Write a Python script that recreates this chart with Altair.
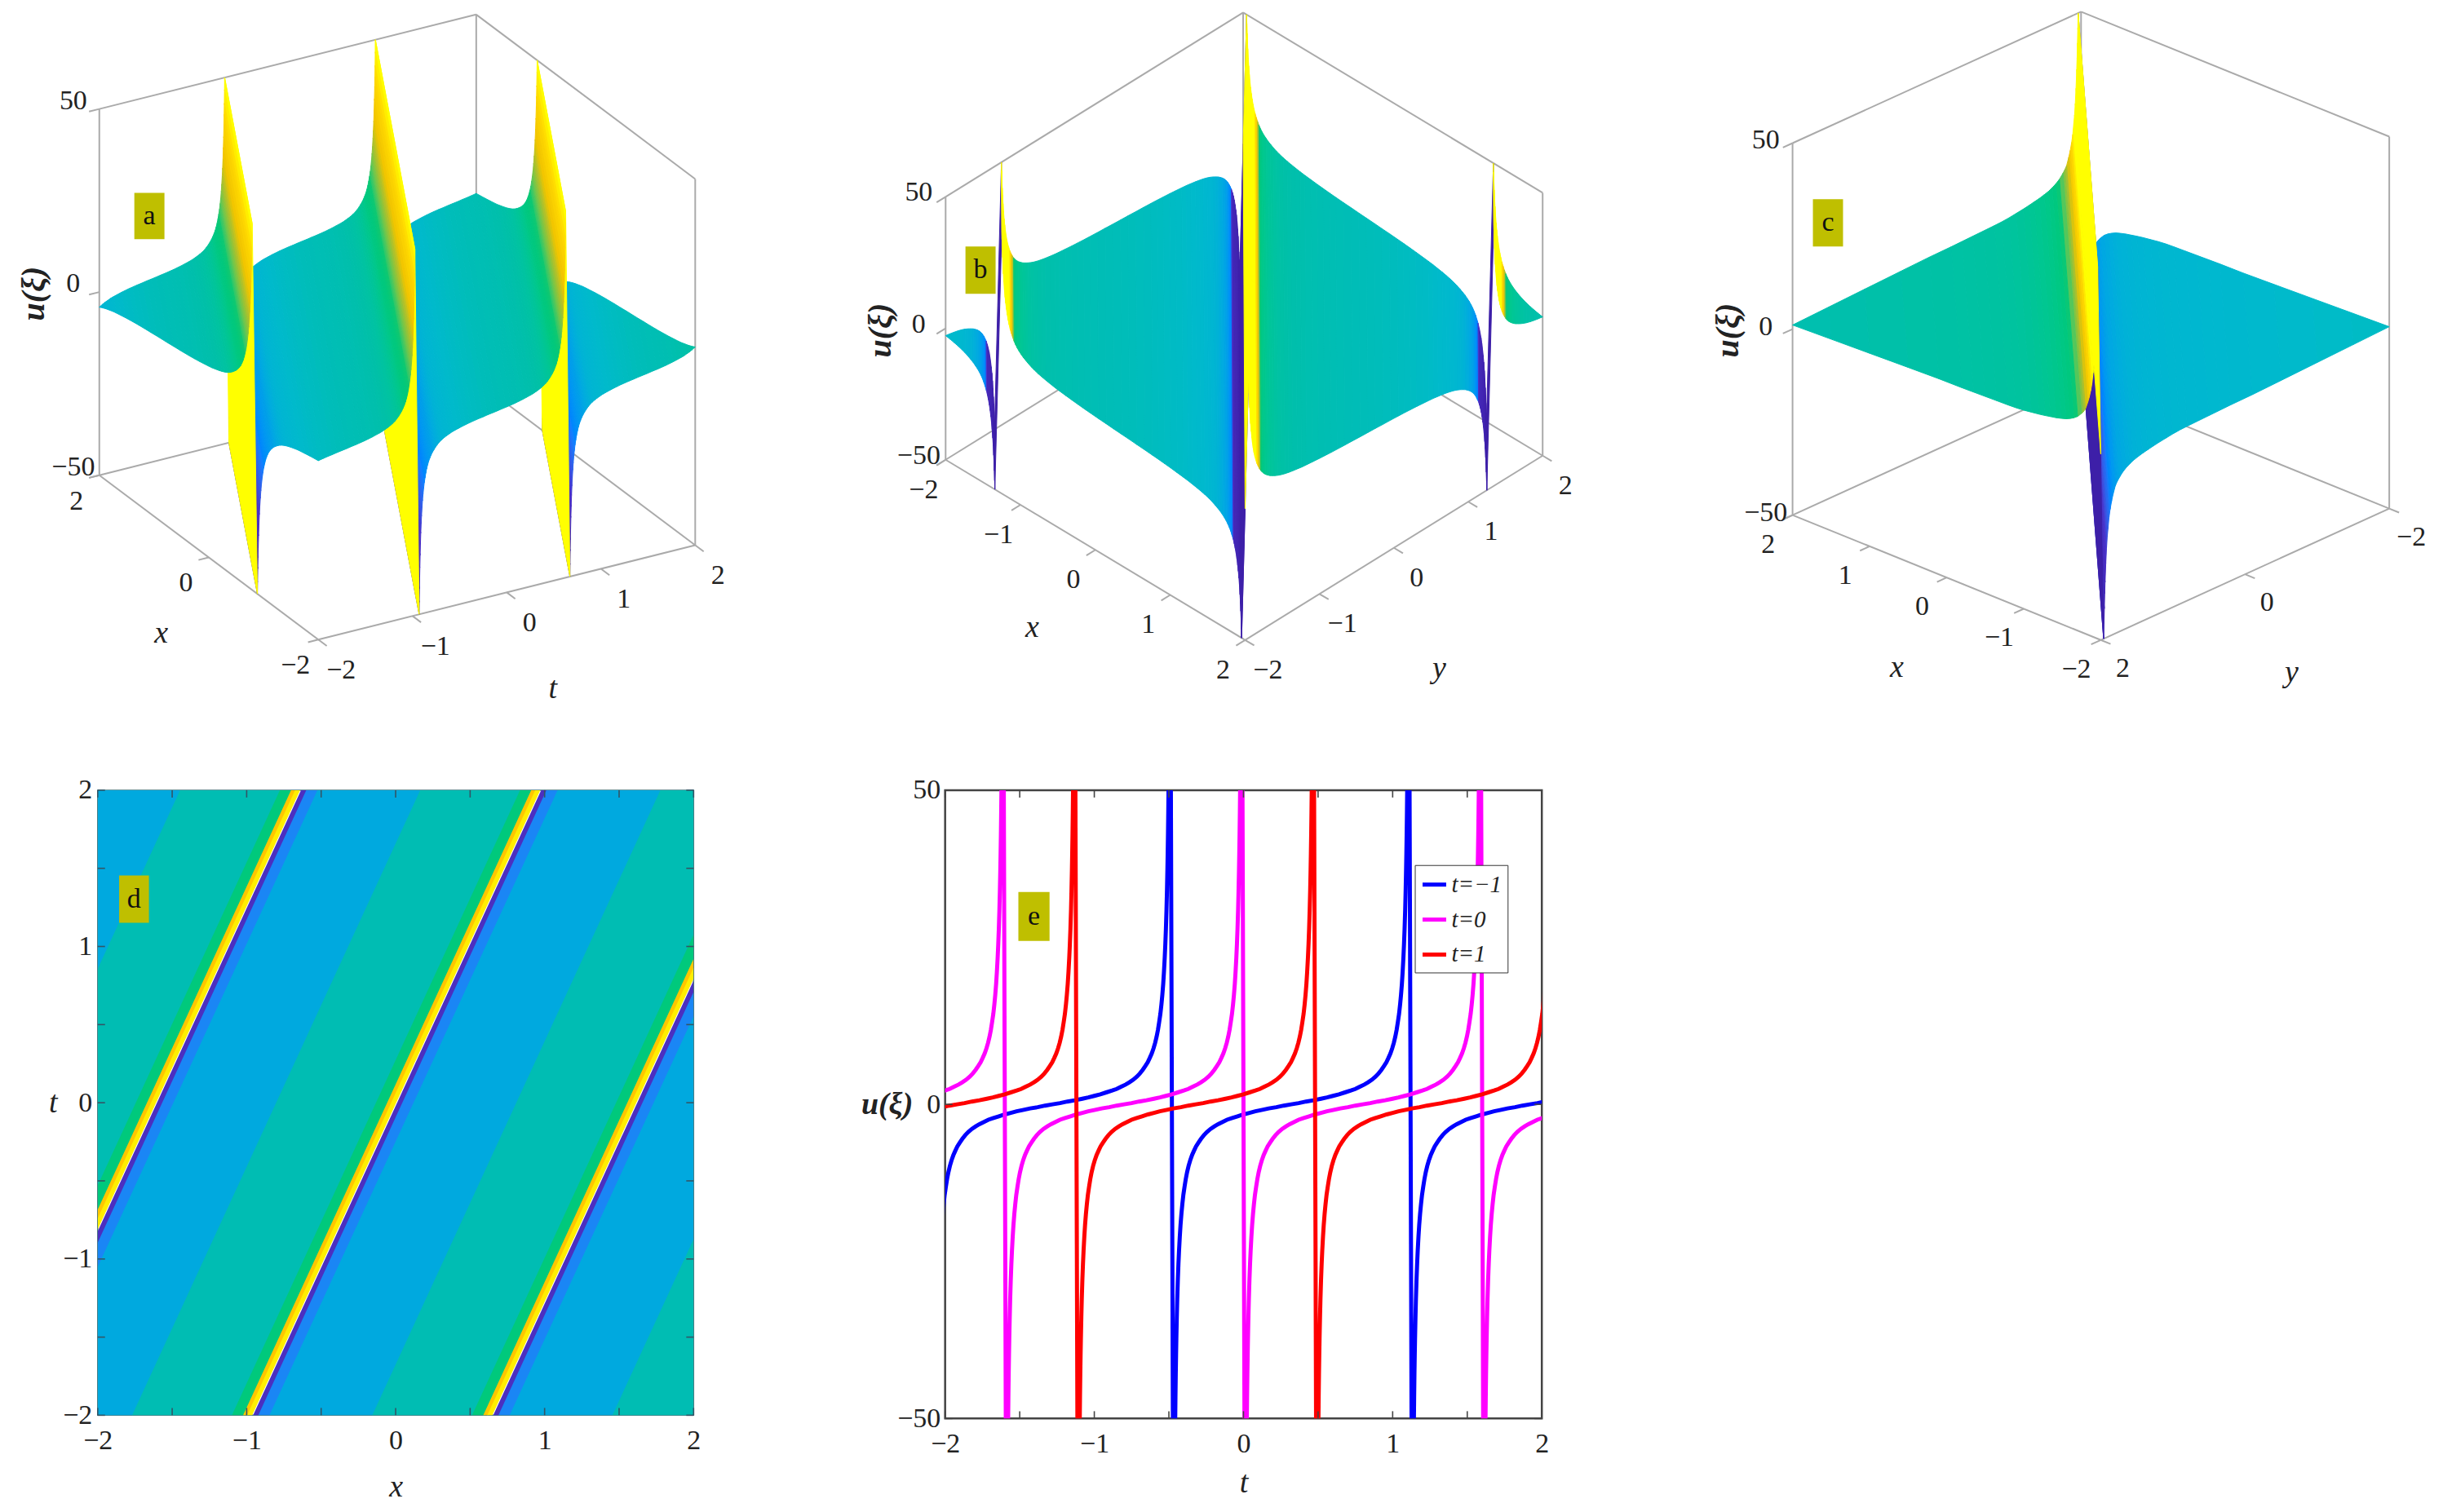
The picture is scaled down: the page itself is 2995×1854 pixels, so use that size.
import altair as alt
import numpy as np

# ---- profile of u: distance from a pole, |u| ----
PROFILE_D = [0.0225,0.024,0.026,0.028,0.03,0.033,0.036,0.04,0.044,0.048,0.053,0.058,0.064,0.07,0.077,0.085,0.093,0.102,0.112,0.123,0.135,0.148,0.162,0.178,0.195,0.215,0.235,0.26,0.285,0.31,0.34,0.37,0.40,0.44,0.48,0.52,0.56,0.60,0.65,0.70,0.75,0.80]
PROFILE_U = [50,46.7,43,40,37.3,33.9,31,27.9,25.4,23.3,21.1,19.2,17.4,15.9,14.4,13.1,11.9,10.8,9.8,8.9,8.1,7.4,6.7,6.1,5.5,4.9,4.4,3.9,3.5,3.15,2.8,2.45,2.2,1.9,1.6,1.35,1.1,0.9,0.65,0.45,0.2,0]
NEAR_POLE_D, NEAR_POLE_U = 0.012, 90

# profile of panel c: distance |x+y| from the pole, |u|
C_D = [0.04,0.045,0.05,0.055,0.06,0.07,0.08,0.09,0.1,0.115,0.13,0.15,0.17,0.2,0.225,0.25,0.3,0.35,0.4,0.45,0.51,0.58,0.65,0.72,0.8,0.9,1.0,1.1,1.2,1.35,1.5,1.65,1.8,2.1,2.5,3.0,3.5,4.0,4.2]
C_U = [50,46,42,38,35,30,26,23,21,18,16,14,12.4,10.4,9.5,8.8,7.6,6.8,6.2,5.7,5.3,4.9,4.6,4.3,4,3.7,3.4,3.2,3.1,3,2.9,2.8,2.7,2.6,2.3,1.9,1.5,1.1,0.9]

# panel e
SERIES = ["t=−1", "t=0", "t=1"]
SERIES_COL = ["#0000ff", "#ff00ff", "#ff0000"]
SERIES_POLES = [[-2.08,-0.48,1.12,2.72], [-3.2,-1.6,0.0,1.6,3.2], [-2.72,-1.12,0.48,2.08]]
TICKS_X = [-2,-1.5,-1,-0.5,0,0.5,1,1.5,2]
LABELS_X = [-2,-1,0,1,2]
LABELS_U = [-50,0,50]

# panel d: poles at t=-2 in x and contour bands around a pole
D_POLES = [-4.178,-2.566,-0.954,0.658,2.27]
D_SLOPE = 0.4835
BAND_LO = [0.0, 0.035, 0.11, 0.8, 1.47, 1.545, 1.572]
BAND_HI = [0.035, 0.11, 0.8, 1.47, 1.545, 1.572, 1.6]
BAND_COL = ["#4b2fc0", "#1a86f5", "#00a9df", "#00bdb3", "#00c97c", "#ffc600", "#ffee00"]

# colour map
CM_U = [-50,-29,-15,-7,-4,-2,0,3,7,10,15,19,27,35,50]
CM_C = ["#3d1fa8","#4a30c8","#1080ff","#00a0e8","#00b4d4","#00bacb","#00bdb8","#00c0a8","#00c88a","#10c870","#a8c030","#f0c400","#ffd800","#ffff00","#ffff00"]

GRAY = "#aaaaaa"
BOX = "#bfbf00"
SERIF = "Liberation Serif"

cm_scale = alt.Scale(domain=CM_U, range=CM_C, clamp=True)
ident = dict(type="identity", scale=1, translate=[0, 0])


def profile_samples(poles, D, U):
    rows = []
    for p0, p1 in zip(poles[:-1], poles[1:]):
        for d, v in zip(D, U):
            rows.append((p0 + d, -v))
        for d, v in zip(D[::-1][1:], U[::-1][1:]):
            rows.append((p1 - d, v))
    return rows


def panel3d(cfg):
    ox, oy = cfg["origin"]
    W, H = cfg["size"]
    front = np.array(cfg["front"], float)
    va = (np.array(cfg["left"], float) - front) / (cfg["a_left"] - cfg["a_front"])
    vb = (np.array(cfg["right"], float) - front) / (cfg["b_right"] - cfg["b_front"])
    vz = np.array([0, -cfg["zh"] / 100.0])
    a0, b0 = cfg["a_front"], cfg["b_front"]
    a1, b1 = cfg["a_left"], cfg["b_right"]

    def P(a, b, u):
        q = front + (a - a0) * va + (b - b0) * vb + (u + 50) * vz
        return [round(float(q[0] - ox), 2), round(float(q[1] - oy), 2)]

    ca, cb = cfg["xi"]
    def rule(xi):
        pts = []
        for A in (-2, 2):
            B = (xi - ca * A) / cb
            if abs(B) <= 2 + 1e-9:
                pts.append((A, B))
        for B in (-2, 2):
            A = (xi - cb * B) / ca
            if abs(A) <= 2 + 1e-9:
                pts.append((A, B))
        pts.sort()
        return pts[0], pts[-1]

    corners = [ca * s + cb * t for s in (-2, 2) for t in (-2, 2)]
    lo, hi = min(corners), max(corners)
    poles = cfg["poles"]
    D, U = cfg.get("table", (PROFILE_D, PROFILE_U))
    samples = sorted(set(profile_samples(poles, D, U)))
    xs = np.array([s[0] for s in samples]); us = np.array([s[1] for s in samples])
    pts = [(x, u) for x, u in samples if lo < x < hi]

    def u_at(x):
        idx = int(np.searchsorted(xs, x))
        return float(np.interp(x, xs[max(idx - 1, 0):idx + 1], us[max(idx - 1, 0):idx + 1]))
    for c in corners:
        pts.append((c, u_at(c)))
    pts = sorted(set(pts))

    rm = cfg.get("remap")
    def col_of(u):
        return float(np.interp(u, rm[0], rm[1])) if rm else float(u)

    items = []
    for (x1, u1), (x2, u2) in zip(pts[:-1], pts[1:]):
        if u1 >= 49.9 and u2 <= -49.9:
            continue
        p1, q1 = rule(x1)
        p2, q2 = rule(x2)
        ring = [P(*p1, u1), P(*q1, u1), P(*q2, u2), P(*p2, u2), P(*p1, u1)]
        items.append(((x1 + x2) / 2, {"type": "Feature", "geometry": {"type": "Polygon", "coordinates": [ring]},
                                      "properties": {"c": col_of((u1 + u2) / 2)}}))
    for pole in poles:
        if lo < pole < hi:
            d0 = D[0]
            pA, qA = rule(pole - d0)
            pB, qB = rule(pole + d0)
            ring = [P(*pA, 50), P(*qA, 50), P(*qB, -50), P(*pB, -50), P(*pA, 50)]
            items.append((pole, {"type": "Feature", "geometry": {"type": "Polygon", "coordinates": [ring]},
                                 "properties": {"c": cfg["wall"]}}))
    items.sort(key=lambda r: -r[0])
    surf = [f for _, f in items]

    def seg(p, q):
        return {"type": "Feature", "geometry": {"type": "LineString", "coordinates": [p, q]}, "properties": {}}
    lines = []
    for (A, B) in [(a1, b0), (a1, b1), (a0, b1)]:
        lines.append(seg(P(A, B, -50), P(A, B, 50)))
    lines += [seg(P(a1, b0, 50), P(a1, b1, 50)), seg(P(a1, b1, 50), P(a0, b1, 50)),
              seg(P(a1, b0, -50), P(a1, b1, -50)), seg(P(a1, b1, -50), P(a0, b1, -50)),
              seg(P(a1, b0, -50), P(a0, b0, -50)), seg(P(a0, b0, -50), P(a0, b1, -50))]
    ua = (np.array(cfg["left"], float) - front); ua = ua / np.linalg.norm(ua)
    ub = (np.array(cfg["right"], float) - front); ub = ub / np.linalg.norm(ub)
    TL = 13
    for v in cfg["a_ticks"]:
        p = P(v, b0, -50)
        lines.append(seg(p, [p[0] - ub[0] * TL, p[1] - ub[1] * TL]))
    for v in cfg["b_ticks"]:
        p = P(a0, v, -50)
        lines.append(seg(p, [p[0] - ua[0] * TL, p[1] - ua[1] * TL]))
    for v in LABELS_U:
        p = P(a1, b0, v)
        lines.append(seg(p, [p[0] - ub[0] * TL, p[1] - ub[1] * TL]))

    def fmt(v):
        return str(v).replace("-", "−")
    labels = []
    for v in cfg["a_ticks"]:
        p = P(v, b0, -50)
        labels.append({"lon": p[0] + cfg["a_off"][0], "lat": p[1] + cfg["a_off"][1], "label": fmt(v)})
    for v in cfg["b_ticks"]:
        p = P(a0, v, -50)
        labels.append({"lon": p[0] + cfg["b_off"][0], "lat": p[1] + cfg["b_off"][1], "label": fmt(v)})
    for v in LABELS_U:
        p = P(a1, b0, v)
        labels.append({"lon": p[0] + cfg["z_off"][0], "lat": p[1] + cfg["z_off"][1], "label": fmt(v)})

    titles = [{"lon": cfg["a_title"][0] - ox, "lat": cfg["a_title"][1] - oy, "label": cfg["a_name"]},
              {"lon": cfg["b_title"][0] - ox, "lat": cfg["b_title"][1] - oy, "label": cfg["b_name"]}]
    ztitle = [{"lon": cfg["z_title"][0] - ox, "lat": cfg["z_title"][1] - oy, "label": "u(ξ)"}]
    bx0, by0, bx1, by1 = cfg["box"]
    box_ring = [[bx0 - ox, by0 - oy], [bx1 - ox, by0 - oy], [bx1 - ox, by1 - oy], [bx0 - ox, by1 - oy], [bx0 - ox, by0 - oy]]
    box = [{"type": "Feature", "geometry": {"type": "Polygon", "coordinates": [box_ring]}, "properties": {}}]
    boxt = [{"lon": (bx0 + bx1) / 2 - ox, "lat": (by0 + by1) / 2 - oy, "label": cfg["tag"]}]

    def geotext(rows, **kw):
        return (alt.Chart(alt.Data(values=rows))
                .mark_text(font=SERIF, baseline="middle", align="center", **kw)
                .encode(longitude=alt.Longitude("lon:Q"), latitude=alt.Latitude("lat:Q"), text="label:N")
                .project(**ident))

    l_lines = alt.Chart(alt.Data(values=lines)).mark_geoshape(filled=False, stroke=GRAY, strokeWidth=2).project(**ident)
    l_surf = (alt.Chart(alt.Data(values=surf)).mark_geoshape(strokeWidth=1.0)
              .encode(fill=alt.Fill("properties.c:Q", scale=cm_scale, legend=None),
                      stroke=alt.Stroke("properties.c:Q", scale=cm_scale, legend=None))
              .project(**ident))
    l_box = alt.Chart(alt.Data(values=box)).mark_geoshape(fill=BOX, stroke=None).project(**ident)
    return alt.layer(l_lines, l_surf, l_box,
                     geotext(boxt, fontSize=34, color="#111111"),
                     geotext(labels, fontSize=34, color="#222222"),
                     geotext(titles, fontSize=38, fontStyle="italic", color="#222222"),
                     geotext(ztitle, fontSize=40, fontStyle="italic", fontWeight="bold", angle=270, color="#222222"),
                     ).properties(width=W, height=H)


PANEL_A = dict(origin=(8, 8), size=(992, 892), front=(388, 784), left=(119, 582), right=(851, 668), zh=450,
               a_front=-2, a_left=2, b_front=-2, b_right=2, xi=(-1 / 2.1, 1.0), poles=[-4.8, -3.2, -1.6, 0.0, 1.6, 3.2, 4.8],
               remap=([-50, 8, 15, 25, 40, 50], [-50, 8, 11, 17, 27, 36]),
               wall=50, a_ticks=[-2, 0, 2], b_ticks=[-2, -1, 0, 1, 2], a_off=(-28, 32), b_off=(28, 38), z_off=(-32, -10),
               a_title=(195, 777), b_title=(676, 845), z_title=(39, 359), a_name="x", b_name="t", box=(162, 235, 199, 292), tag="a")
PANEL_B = dict(origin=(1000, 8), size=(1040, 892), front=(1526.5, 784.5), left=(1158.6, 563), right=(1892, 558), zh=323,
               a_front=2, a_left=-2, b_front=-2, b_right=2, xi=(-1 / 2.06, -1 / 2.06), poles=[-3.2, -1.6, 0.0, 1.6, 3.2],
               remap=([-50, -16, -14, -10, -6, 0, 5, 10, 12, 15, 50], [-50, -40, -15, -7, -4, 0, 4, 8, 19, 35, 50]),
               wall=-50, a_ticks=[-2, -1, 0, 1, 2], b_ticks=[-2, -1, 0, 1, 2], a_off=(-27, 37), b_off=(28, 37), z_off=(-33, -5),
               a_title=(1265, 770), b_title=(1765, 820), z_title=(1079, 404), a_name="x", b_name="y", box=(1183, 301, 1220, 359), tag="b")
PANEL_C = dict(origin=(2040, 8), size=(950, 892), front=(2577.6, 784.5), left=(2199, 631), right=(2932, 623), zh=457,
               a_front=-2, a_left=2, b_front=2, b_right=-2, xi=(-1.0, -1.0), poles=[-8.4, 0.0, 8.4], table=(C_D, C_U),
               remap=([-50, -20, -10, -3, 0, 3, 7, 12, 19, 50], [-50, -20, -7, -3, 0, 4, 9, 19, 35, 50]),
               wall=-50, a_ticks=[-2, -1, 0, 1, 2], b_ticks=[-2, 0, 2], a_off=(-30, 36), b_off=(27, 35), z_off=(-33, -3),
               a_title=(2327, 819), b_title=(2812, 825), z_title=(2120, 404), a_name="x", b_name="y", box=(2224, 243, 2261, 301), tag="c")

# ---------- flat panels ----------
axis_common = dict(labelFont=SERIF, labelFontSize=34, labelColor="#222222", tickSize=0, domain=False, grid=False,
                   labelFlush=False, labelOverlap=False,
                   titleFont=SERIF, titleFontSize=38, titleFontStyle="italic", titleFontWeight="normal", titleColor="#222222",
                   format="d")
sx_d = alt.Scale(domain=[-2, 2], nice=False, zero=False)
su_t = alt.Scale(domain=[-2, 2], nice=False, zero=False)
su_u = alt.Scale(domain=[-50, 50], nice=False, zero=False)

d_w, d_h = 732, 768
e_w, e_h = 733, 772
AX_XD = alt.Axis(values=LABELS_X, labelPadding=14, titlePadding=21, **axis_common)
AX_XE = alt.Axis(values=LABELS_X, labelPadding=14, titlePadding=12, **axis_common)
AY_D = alt.Axis(values=LABELS_X, labelPadding=7, titleAngle=0, titleX=-55, titleY=384, titleAlign="center", titleBaseline="middle", **axis_common)
AY_E = alt.Axis(values=LABELS_U, labelPadding=6, titleAngle=0, titleX=-40, titleY=386, titleAlign="right", titleBaseline="middle",
                **{**axis_common, "titleFontSize": 38, "titleFontWeight": "bold"})


def inward_ticks(xticks, yticks, w, h, sy, color, xt, yt, ax_x, ax_y):
    L = 9
    xr = [{"v": v} for v in xticks]
    yr = [{"v": v} for v in yticks]
    r = lambda vals: alt.Chart(alt.Data(values=vals)).mark_rule(color=color, strokeWidth=1.6)
    X = alt.X("v:Q", scale=sx_d, axis=ax_x, title=xt)
    Y = alt.Y("v:Q", scale=sy, axis=ax_y, title=yt)
    return [r(xr).encode(x=X, y=alt.value(h), y2=alt.value(h - L)),
            r(xr).encode(x=X, y=alt.value(0), y2=alt.value(L)),
            r(yr).encode(y=Y, x=alt.value(0), x2=alt.value(L)),
            r(yr).encode(y=Y, x=alt.value(w), x2=alt.value(w - L))]


def tag_box(x0, x1, y0, y1, sy, tag, xt, yt, ax_x, ax_y):
    rows = [{"x0": x0, "x1": x1, "y0": y0, "y1": y1, "xm": (x0 + x1) / 2, "ym": (y0 + y1) / 2, "tag": tag}]
    rect = alt.Chart(alt.Data(values=rows)).mark_rect(color=BOX).encode(
        x=alt.X("x0:Q", scale=sx_d, axis=ax_x, title=xt), x2="x1:Q", y=alt.Y("y0:Q", scale=sy, axis=ax_y, title=yt), y2="y1:Q")
    txt = alt.Chart(alt.Data(values=rows)).mark_text(font=SERIF, fontSize=34, color="#111111").encode(
        x=alt.X("xm:Q", scale=sx_d, axis=ax_x, title=xt), y=alt.Y("ym:Q", scale=sy, axis=ax_y, title=yt), text="tag:N")
    return [rect, txt]


# panel d: one layer of areas per contour colour
band_layers = []
bid = 0
for lo, hi, col in zip(BAND_LO, BAND_HI, BAND_COL):
    rows = []
    for P0 in D_POLES:
        bid += 1
        for xv in (-2.0, 2.0):
            rows.append({"px": xv, "t0": -2 + (xv - (P0 + lo - 0.003)) / D_SLOPE, "t1": -2 + (xv - (P0 + hi + 0.003)) / D_SLOPE, "band": bid})
    band_layers.append(
        alt.Chart(alt.Data(values=rows)).mark_area(clip=True, color=col, interpolate="linear")
        .encode(x=alt.X("px:Q", scale=sx_d, title="x", axis=AX_XD),
                y=alt.Y("t0:Q", scale=su_t, title="t", axis=AY_D, stack=None),
                y2="t1:Q",
                detail="band:N"))
chart_d = alt.layer(*band_layers, *inward_ticks(TICKS_X, TICKS_X, d_w, d_h, su_t, "#335566", "x", "t", AX_XD, AY_D),
                    *tag_box(-1.856, -1.656, 1.454, 1.151, su_t, "d", "x", "t", AX_XD, AY_D)).properties(
    width=d_w, height=d_h, view=alt.ViewBackground(stroke="#4a7a80", strokeWidth=1.5))

# panel e
line_rows = []
for name, poles in zip(SERIES, SERIES_POLES):
    for p in poles:
        ds = PROFILE_D + [NEAR_POLE_D]
        vs = PROFILE_U + [NEAR_POLE_U]
        order = np.argsort(ds)
        for i in order[::-1]:
            line_rows.append({"t": round(p - ds[i], 4), "u": vs[i], "s": name})
        for i in order:
            line_rows.append({"t": round(p + ds[i], 4), "u": -vs[i], "s": name})
curves = (alt.Chart(alt.Data(values=line_rows)).mark_line(clip=True, strokeWidth=5, interpolate="linear")
          .encode(x=alt.X("t:Q", scale=sx_d, title="t", axis=AX_XE),
                  y=alt.Y("u:Q", scale=su_u, title="u(ξ)", axis=AY_E),
                  color=alt.Color("s:N", scale=alt.Scale(domain=SERIES, range=SERIES_COL),
                                  legend=alt.Legend(title=None, orient="none", legendX=1727, legendY=1053,
                                                    fillColor="white", strokeColor="#333333", padding=7,
                                                    labelFont=SERIF, labelFontSize=29, labelFontStyle="italic", labelColor="#222222",
                                                    symbolType="stroke", symbolSize=840, symbolStrokeWidth=5, rowPadding=11))))
chart_e = alt.layer(curves, *inward_ticks(TICKS_X, LABELS_U, e_w, e_h, su_u, "#444444", "t", "u(ξ)", AX_XE, AY_E),
                    *tag_box(-1.509, -1.30, 33.8, 26.0, su_u, "e", "t", "u(ξ)", AX_XE, AY_E)).properties(
    width=e_w, height=e_h, view=alt.ViewBackground(stroke="#444444", strokeWidth=2.5))


def spacer(w):
    return alt.Chart(alt.Data(values=[{"a": 0}])).mark_point(opacity=0).encode(
        x=alt.value(0), y=alt.value(0)).properties(width=w, height=10)


top = alt.hconcat(panel3d(PANEL_A), panel3d(PANEL_B), panel3d(PANEL_C), spacing=0)
bottom = alt.hconcat(spacer(47), chart_d, spacer(191), chart_e, spacing=0)
chart = (alt.vconcat(top, bottom, spacing=50)
         .properties(padding=0, background="white")
         .configure_view(stroke=None))
chart.save("out.html", embed_options={"renderer": "svg", "actions": False})
